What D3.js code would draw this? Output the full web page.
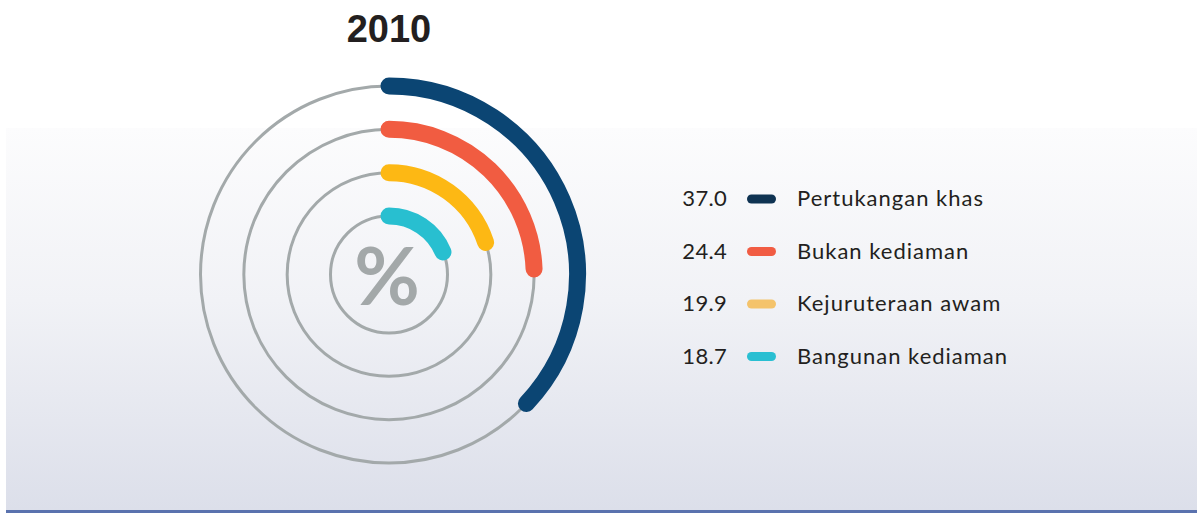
<!DOCTYPE html>
<html>
<head>
<meta charset="utf-8">
<script src="https://cdn.jsdelivr.net/npm/d3@7"></script>
<style>
  html, body { margin: 0; padding: 0; background: #ffffff; }
  svg { display: block; }
</style>
</head>
<body>
<svg id="chart" width="1197" height="514"></svg>
<script>
// ---- data ----
const title = "2010";
const categories = ["Pertukangan khas", "Bukan kediaman", "Kejuruteraan awam", "Bangunan kediaman"];
const values = [37.0, 24.4, 19.9, 18.7];
const arcColors = ["#0b4573", "#f15c41", "#fdb814", "#28bfd0"];
const legendColors = ["#0f3352", "#f15c43", "#f4c36b", "#29bfd2"];
const centerLabel = "%";

// ---- layout ----
const W = 1197, H = 514;
const cx = 389, cy = 274.5;
const svg = d3.select("#chart");

// background panel with gradient
const defs = svg.append("defs");
const grad = defs.append("linearGradient").attr("id", "bg").attr("x1", 0).attr("y1", 0).attr("x2", 0).attr("y2", 1);
grad.append("stop").attr("offset", "0%").attr("stop-color", "#fcfcfd");
grad.append("stop").attr("offset", "45%").attr("stop-color", "#f1f2f6");
grad.append("stop").attr("offset", "100%").attr("stop-color", "#dcdfea");

svg.append("rect").attr("x", 0).attr("y", 0).attr("width", W).attr("height", H).attr("fill", "#ffffff");
svg.append("rect").attr("x", 6).attr("y", 128).attr("width", W - 6).attr("height", 382).attr("fill", "url(#bg)");
svg.append("rect").attr("x", 6).attr("y", 510).attr("width", W - 6).attr("height", 3).attr("fill", "#5a72ae");

// title
svg.append("text")
  .attr("x", cx).attr("y", 42)
  .attr("text-anchor", "middle")
  .attr("font-family", "'Liberation Sans', Arial, sans-serif")
  .attr("font-weight", "bold")
  .attr("font-size", 38)
  .attr("fill", "#231f20")
  .text(title);

// scales
const angle = d3.scaleLinear().domain([0, 100]).range([0, 2 * Math.PI]);
const radius = d3.scalePoint().domain(categories).range([188.5, 58.5]);

const g = svg.append("g");

// gray rings
g.selectAll("circle.ring")
  .data(categories)
  .join("circle")
  .attr("class", "ring")
  .attr("cx", cx).attr("cy", cy)
  .attr("r", d => radius(d))
  .attr("fill", "none")
  .attr("stroke", "#a3a9aa")
  .attr("stroke-width", 3);

// value arcs
g.selectAll("path.bar")
  .data(categories)
  .join("path")
  .attr("class", "bar")
  .attr("d", (d, i) => {
    const p = d3.path();
    const a0 = -Math.PI / 2;
    const a1 = a0 + angle(values[i]);
    p.arc(cx, cy, radius(d), a0, a1, false);
    return p.toString();
  })
  .attr("fill", "none")
  .attr("stroke", (d, i) => arcColors[i])
  .attr("stroke-width", 17)
  .attr("stroke-linecap", "round");

// center label
svg.append("text")
  .attr("x", cx - 2).attr("y", cy + 30)
  .attr("text-anchor", "middle")
  .attr("font-family", "Lato, 'Open Sans', sans-serif")
  .attr("font-weight", "bold")
  .attr("font-size", 80)
  .attr("fill", "#a3a8a9")
  .text(centerLabel);

// legend
const rowY = d3.scalePoint().domain(categories).range([199, 356.5]);
const fmt = d3.format(".1f");
const leg = svg.append("g").attr("font-family", "Lato, sans-serif").attr("font-size", 22).attr("fill", "#231f20");
const rows = leg.selectAll("g.row").data(categories).join("g").attr("class", "row")
  .attr("transform", d => `translate(0,${rowY(d)})`);
rows.append("text")
  .attr("x", 727).attr("y", 7)
  .attr("text-anchor", "end")
  .attr("letter-spacing", 0.3)
  .text((d, i) => fmt(values[i]));
rows.append("rect")
  .attr("x", 747).attr("y", -4.5)
  .attr("width", 29).attr("height", 9)
  .attr("rx", 4.5)
  .attr("fill", (d, i) => legendColors[i]);
rows.append("text")
  .attr("x", 797).attr("y", 7)
  .attr("letter-spacing", 1)
  .text(d => d);
</script>
</body>
</html>
